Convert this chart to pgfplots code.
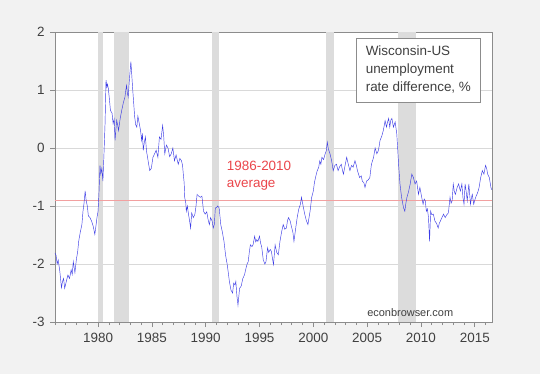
\documentclass[border=0pt]{standalone}
\usepackage{pgfplots}
\pgfplotsset{compat=1.18}
\usepackage{fontspec}
\setmainfont{Liberation Sans}
\definecolor{bgc}{HTML}{F2F2F2}
\definecolor{recc}{HTML}{DCDCDC}
\definecolor{gridc}{HTML}{D9D9D9}
\definecolor{linec}{RGB}{60,60,230}
\definecolor{avgc}{HTML}{F2A0A0}
\definecolor{avgtxt}{RGB}{235,70,75}
\definecolor{txtc}{HTML}{404040}
\definecolor{framec}{HTML}{8C8C8C}
\pgfplotstableread{
x y
1976.00 -1.81
1976.10 -1.85
1976.20 -2.00
1976.30 -1.93
1976.45 -2.13
1976.60 -2.41
1976.70 -2.30
1976.80 -2.25
1976.90 -2.42
1977.05 -2.30
1977.20 -2.19
1977.35 -2.25
1977.50 -2.10
1977.60 -2.18
1977.70 -1.96
1977.85 -2.15
1978.00 -1.90
1978.10 -1.80
1978.20 -1.61
1978.35 -1.45
1978.50 -1.32
1978.60 -1.09
1978.70 -0.95
1978.80 -0.74
1978.90 -0.91
1979.00 -1.00
1979.10 -1.17
1979.25 -1.20
1979.40 -1.26
1979.55 -1.35
1979.70 -1.49
1979.80 -1.35
1979.90 -1.20
1980.00 -1.09
1980.08 -0.80
1980.18 -0.30
1980.25 -0.45
1980.35 -0.35
1980.45 -0.57
1980.55 -0.10
1980.65 0.42
1980.74 1.17
1980.82 1.05
1980.88 1.10
1980.95 1.03
1981.05 0.85
1981.15 0.65
1981.30 0.60
1981.40 0.42
1981.50 0.50
1981.58 0.13
1981.65 0.30
1981.73 0.48
1981.82 0.40
1981.90 0.30
1982.05 0.50
1982.20 0.65
1982.35 0.78
1982.50 0.88
1982.58 1.00
1982.65 1.08
1982.72 0.95
1982.80 0.88
1982.92 1.20
1983.05 1.49
1983.12 1.30
1983.20 1.06
1983.30 0.80
1983.40 0.54
1983.50 0.40
1983.60 0.36
1983.70 0.55
1983.83 0.42
1983.95 0.30
1984.05 0.13
1984.12 0.25
1984.20 -0.04
1984.30 0.10
1984.40 0.19
1984.50 -0.05
1984.65 -0.22
1984.80 -0.39
1984.95 -0.35
1985.10 -0.16
1985.25 -0.10
1985.40 -0.04
1985.56 -0.16
1985.70 0.19
1985.85 0.15
1986.00 0.39
1986.10 0.20
1986.20 -0.10
1986.35 0.05
1986.50 0.00
1986.65 -0.15
1986.80 -0.10
1986.95 0.00
1987.10 -0.22
1987.25 -0.12
1987.45 -0.28
1987.60 -0.18
1987.75 -0.22
1987.85 -0.30
1987.92 -0.45
1988.00 -0.60
1988.05 -0.85
1988.15 -0.95
1988.20 -1.09
1988.30 -1.00
1988.40 -1.14
1988.50 -1.25
1988.60 -1.38
1988.70 -1.12
1988.85 -1.20
1989.00 -1.14
1989.10 -1.00
1989.20 -0.80
1989.35 -0.83
1989.50 -0.85
1989.65 -0.83
1989.80 -1.09
1989.95 -1.14
1990.10 -1.10
1990.25 -1.26
1990.35 -1.32
1990.45 -1.20
1990.60 -1.26
1990.70 -1.38
1990.80 -1.32
1990.90 -1.03
1991.00 -1.03
1991.10 -1.00
1991.25 -1.03
1991.40 -1.32
1991.55 -1.45
1991.70 -1.61
1991.85 -1.85
1992.00 -2.01
1992.10 -2.15
1992.20 -2.30
1992.35 -2.45
1992.50 -2.50
1992.60 -2.33
1992.72 -2.36
1992.80 -2.30
1992.90 -2.55
1993.00 -2.71
1993.15 -2.42
1993.30 -2.38
1993.45 -2.25
1993.60 -2.19
1993.75 -2.07
1993.85 -2.00
1993.95 -1.96
1994.05 -1.80
1994.15 -1.67
1994.30 -1.70
1994.40 -1.67
1994.55 -1.52
1994.65 -1.62
1994.75 -1.58
1994.85 -1.61
1995.00 -1.52
1995.10 -1.64
1995.20 -1.70
1995.35 -1.93
1995.50 -2.00
1995.60 -1.96
1995.75 -1.72
1995.85 -1.80
1996.00 -1.75
1996.10 -1.78
1996.20 -1.90
1996.30 -2.01
1996.45 -1.67
1996.60 -1.80
1996.75 -1.84
1996.90 -1.61
1997.05 -1.45
1997.20 -1.32
1997.35 -1.40
1997.50 -1.38
1997.60 -1.25
1997.70 -1.20
1997.85 -1.26
1998.00 -1.38
1998.10 -1.45
1998.20 -1.61
1998.35 -1.40
1998.50 -1.20
1998.65 -1.05
1998.80 -0.97
1998.90 -0.85
1999.05 -1.00
1999.20 -1.14
1999.35 -1.25
1999.50 -1.32
1999.60 -1.20
1999.70 -1.09
1999.85 -0.85
2000.00 -0.74
2000.10 -0.60
2000.20 -0.51
2000.35 -0.40
2000.50 -0.33
2000.60 -0.22
2000.70 -0.28
2000.80 -0.16
2000.95 -0.20
2001.10 -0.10
2001.20 -0.05
2001.30 0.10
2001.40 -0.02
2001.55 -0.10
2001.70 -0.22
2001.85 -0.39
2002.00 -0.30
2002.15 -0.28
2002.30 -0.39
2002.45 -0.32
2002.60 -0.28
2002.70 -0.38
2002.80 -0.45
2002.95 -0.30
2003.10 -0.16
2003.25 -0.28
2003.40 -0.39
2003.55 -0.30
2003.70 -0.33
2003.87 -0.22
2004.00 -0.30
2004.10 -0.39
2004.20 -0.45
2004.30 -0.51
2004.45 -0.48
2004.55 -0.57
2004.70 -0.60
2004.80 -0.68
2004.95 -0.57
2005.10 -0.55
2005.25 -0.51
2005.40 -0.28
2005.50 -0.22
2005.60 -0.16
2005.74 0.00
2005.90 -0.10
2006.05 -0.04
2006.20 0.13
2006.35 0.20
2006.50 0.30
2006.60 0.40
2006.67 0.47
2006.80 0.36
2006.90 0.45
2007.00 0.51
2007.10 0.36
2007.20 0.48
2007.30 0.51
2007.44 0.36
2007.60 0.45
2007.75 0.25
2007.85 -0.05
2007.92 -0.28
2008.05 -0.62
2008.20 -0.85
2008.30 -0.95
2008.38 -1.03
2008.50 -1.09
2008.60 -0.95
2008.70 -0.85
2008.85 -0.75
2009.00 -0.62
2009.15 -0.45
2009.30 -0.51
2009.45 -0.62
2009.60 -0.57
2009.77 -0.80
2009.90 -0.68
2010.07 -0.85
2010.20 -0.97
2010.30 -0.88
2010.40 -0.91
2010.50 -1.09
2010.60 -1.05
2010.70 -1.20
2010.80 -1.61
2010.90 -1.09
2011.00 -1.15
2011.15 -1.14
2011.30 -1.26
2011.45 -1.30
2011.60 -1.38
2011.70 -1.30
2011.80 -1.26
2011.95 -1.20
2012.10 -1.14
2012.25 -1.20
2012.40 -1.15
2012.55 -1.12
2012.70 -0.85
2012.80 -0.95
2012.90 -0.91
2013.00 -0.62
2013.10 -0.75
2013.20 -0.80
2013.36 -0.68
2013.50 -0.62
2013.60 -0.70
2013.67 -0.74
2013.80 -0.62
2013.90 -0.85
2014.00 -0.97
2014.10 -0.62
2014.20 -0.75
2014.30 -0.91
2014.45 -0.62
2014.60 -0.97
2014.70 -0.85
2014.77 -0.80
2014.90 -0.97
2015.00 -0.90
2015.08 -0.85
2015.20 -0.80
2015.30 -0.75
2015.40 -0.68
2015.55 -0.51
2015.70 -0.39
2015.85 -0.45
2016.00 -0.30
2016.10 -0.35
2016.20 -0.45
2016.35 -0.51
2016.50 -0.68
2016.58 -0.72
}\wisc
\begin{document}
\begin{tikzpicture}
\fill[bgc] (-55bp,-52bp) rectangle (485bp,322bp);
\begin{axis}[
  at={(0,0)}, anchor=south west,
  scale only axis, width=437bp, height=290bp,
  xmin=1976, xmax=2016.6, ymin=-3, ymax=2,
  axis background/.style={fill=white},
  axis line style={framec, line width=0.6pt},
  xtick={1980,1985,...,2015},
  xticklabels={1980,1985,1990,1995,2000,2005,2010,2015},
  minor xtick={1976,...,2016},
  ytick={-3,-2,...,2},
  yticklabels={-3,-2,-1,0,1,2},
  tick align=outside,
  major tick length=5bp, minor tick length=3bp,
  every tick/.style={framec, line width=0.6pt},
  xtick pos=bottom, ytick pos=left,
  ymajorgrids, grid style={gridc, line width=0.6pt},
  tick label style={font=\fontsize{13.5}{16}\selectfont, text=txtc},
  xticklabel style={yshift=-3bp},
  yticklabel style={xshift=-2bp},
  clip=true,
]
\addplot[fill=recc, draw=none] coordinates {(1980.0,-3)(1980.0,2)(1980.5,2)(1980.5,-3)} -- cycle;
\addplot[fill=recc, draw=none] coordinates {(1981.5,-3)(1981.5,2)(1982.9,2)(1982.9,-3)} -- cycle;
\addplot[fill=recc, draw=none] coordinates {(1990.55,-3)(1990.55,2)(1991.2,2)(1991.2,-3)} -- cycle;
\addplot[fill=recc, draw=none] coordinates {(2001.2,-3)(2001.2,2)(2001.9,2)(2001.9,-3)} -- cycle;
\addplot[fill=recc, draw=none] coordinates {(2007.9,-3)(2007.9,2)(2009.5,2)(2009.5,-3)} -- cycle;
\addplot[avgc, line width=0.6pt] coordinates {(1976,-0.91)(2016.6,-0.91)};
\addplot[linec, line width=0.45pt] table[x=x,y=y] {\wisc};
\node[anchor=west, align=left, text=avgtxt, font=\fontsize{13.5}{17}\selectfont, inner sep=0pt]
  at (axis cs:1991.95,-0.47) {1986-2010\\average};
\node[anchor=north west, align=left, draw=framec, fill=white, line width=0.6pt,
  text=txtc, font=\fontsize{13.5}{18}\selectfont, inner xsep=6.5bp, inner ysep=5bp,
  minimum width=124bp, minimum height=64bp]
  at (axis cs:2003.97,1.904) {Wisconsin-US\\unemployment\\rate difference, \%};
\node[text=txtc, font=\fontsize{11}{13}\selectfont, inner sep=0pt]
  at (axis cs:2009,-2.83) {econbrowser.com};
\end{axis}
\end{tikzpicture}
\end{document}
